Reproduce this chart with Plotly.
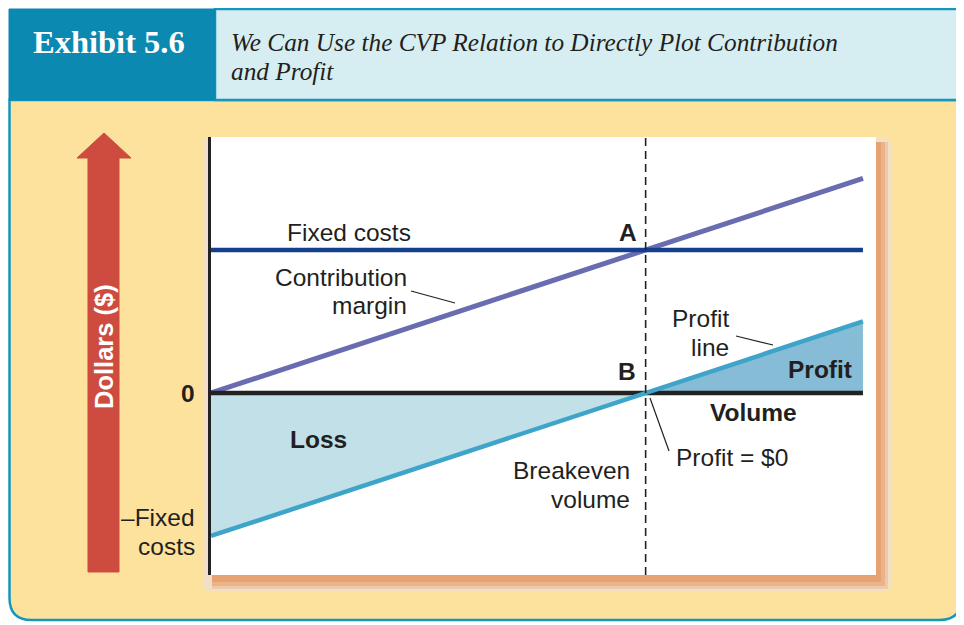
import plotly.graph_objects as go

# ---- data (CVP relation) ----
volume = [0, 1000, 1500]
contribution = [0, 100, 150]
fixed_costs = [100, 100, 100]
profit = [-100, 0, 50]
loss_volume = [0, 1000]
loss_values = [-100, 0]
gain_volume = [1000, 1500]
gain_values = [0, 50]
zero_line = [0, 0, 0]
breakeven_volume = 1000

# page has an 8px body margin; map screen pixels to paper fractions
OFF = 8
W, H = 964 - OFF, 625 - OFF
def fx(px):
    return (px - OFF) / W
def fy(py):
    return 1 - (py - OFF) / H

SANS = "Liberation Sans, Arial, sans-serif"
SERIF = "Liberation Serif, Times New Roman, serif"
TXT = "#231f20"

fig = go.Figure()

# fills
fig.add_trace(go.Scatter(x=loss_volume, y=loss_values, mode="lines", fill="tozeroy",
                         fillcolor="#c1e0e7", line=dict(width=0), hoverinfo="skip"))
fig.add_trace(go.Scatter(x=gain_volume, y=gain_values, mode="lines", fill="tozeroy",
                         fillcolor="#86bcd6", line=dict(width=0), hoverinfo="skip"))
# lines
fig.add_trace(go.Scatter(x=volume, y=contribution, mode="lines",
                         line=dict(color="#6a6cb1", width=5)))
fig.add_trace(go.Scatter(x=volume, y=fixed_costs, mode="lines",
                         line=dict(color="#143f8d", width=4.5)))
fig.add_trace(go.Scatter(x=volume, y=zero_line, mode="lines",
                         line=dict(color="#222222", width=4.5)))
fig.add_trace(go.Scatter(x=volume, y=profit, mode="lines",
                         line=dict(color="#3ea4c9", width=4.5)))

shapes = []
def rect(x0, y0, x1, y1, fill, line_color=None, lw=0, layer="below"):
    shapes.append(dict(type="rect", xref="paper", yref="paper",
                       x0=fx(x0), x1=fx(x1), y0=fy(y1), y1=fy(y0),
                       fillcolor=fill, line=dict(color=line_color or fill, width=lw),
                       layer=layer))

def path(points_cmds, fill, line_color, lw, layer="below"):
    shapes.append(dict(type="path", xref="paper", yref="paper", path=points_cmds,
                       fillcolor=fill, line=dict(color=line_color, width=lw), layer=layer))

def P(x, y):
    return f"{fx(x):.5f},{fy(y):.5f}"

TEAL = "#1597bd"
# yellow body with rounded bottom corners
r = 22
body = (f"M{P(9.5,100)} L{P(961.5,100)} L{P(961.5,620-r)} Q{P(961.5,620)} {P(961.5-r,620)} "
        f"L{P(9.5+r,620)} Q{P(9.5,620)} {P(9.5,620-r)} Z")
path(body, "#fde29d", TEAL, 2.5)
# header boxes
rect(215, 9, 961.5, 100, "#d6eef2", TEAL, 2.5)
rect(9, 9, 215, 100, "#0b89b0", "#0b89b0", 1)

# arrow
arrow = (f"M{P(88,572)} L{P(88,158)} L{P(77,158)} L{P(104,133)} L{P(131,158)} "
         f"L{P(119,158)} L{P(119,572)} Z")
path(arrow, "#cd4b3f", "#cd4b3f", 1)

# panel shadow
rr = 9
shadow = (f"M{P(203,137+rr)} Q{P(203,137)} {P(203+rr,137)} L{P(891-rr,137)} Q{P(891,137)} {P(891,137+rr)} "
          f"L{P(891,591-rr)} Q{P(891,591)} {P(891-rr,591)} L{P(203+rr,591)} Q{P(203,591)} {P(203,591-rr)} Z")
path(shadow, "#f2dfc7", "#f2dfc7", 0)
rect(212, 142, 888, 589, "#efcaa8")
rect(212, 142, 885, 586, "#eab38a")
rect(212, 142, 881, 582, "#e6a271")
rect(211, 137, 876, 575, "#ffffff")

# breakeven dashed line
shapes.append(dict(type="line", xref="x", yref="y domain", x0=breakeven_volume, x1=breakeven_volume,
                   y0=0, y1=1, line=dict(color="#222222", width=1.6, dash="8px,5px"), layer="above"))
# pointer lines
def seg(x0, y0, x1, y1):
    shapes.append(dict(type="line", xref="paper", yref="paper", x0=fx(x0), y0=fy(y0),
                       x1=fx(x1), y1=fy(y1), line=dict(color="#222222", width=1.2), layer="above"))
seg(411, 291, 455, 303)
seg(736, 336, 773, 345)
seg(650, 398, 669, 451)

annotations = []
def ann(text, x, y, size=24.5, bold=False, xanchor="center", color=TXT, family=SANS, **kw):
    if bold:
        text = f"<b>{text}</b>"
    annotations.append(dict(text=text, x=fx(x), y=fy(y), xref="paper", yref="paper",
                            xanchor=xanchor, yanchor="middle", showarrow=False,
                            font=dict(size=size, color=color, family=family), **kw))

ann("Exhibit 5.6", 109, 42, size=32.5, bold=True, color="#ffffff", family=SERIF)
ann("<i>We Can Use the CVP Relation to Directly Plot Contribution</i>", 229, 42, size=25.3,
    xanchor="left", family=SERIF)
ann("<i>and Profit</i>", 229, 71, size=25.3, xanchor="left", family=SERIF)

ann("Dollars ($)", 104, 347, size=25.5, bold=True, color="#ffffff", textangle=-90)

ann("Fixed costs", 349, 232)
ann("A", 628, 232, bold=True)
ann("Contribution", 409, 277, xanchor="right")
ann("margin", 409, 305, xanchor="right")
ann("Profit", 731, 318, xanchor="right")
ann("line", 731, 347, xanchor="right")
ann("B", 627, 371, bold=True)
ann("Profit", 820, 369, bold=True)
ann("0", 197, 393, bold=True, xanchor="right")
ann("Volume", 753, 412, bold=True)
ann("Loss", 318, 439, bold=True)
ann("Profit = $0", 674, 457, xanchor="left")
ann("Breakeven", 632, 470, xanchor="right")
ann("volume", 632, 499, xanchor="right")
ann("\u2013Fixed", 197, 517, xanchor="right")
ann("costs", 197, 546, xanchor="right")

fig.update_layout(
    width=W, height=H, margin=dict(l=0, r=0, t=0, b=0),
    paper_bgcolor="#ffffff", plot_bgcolor="rgba(0,0,0,0)",
    showlegend=False, shapes=shapes, annotations=annotations,
    xaxis=dict(domain=[fx(211), fx(876)], range=[0, 1530], showgrid=False, zeroline=False,
               showticklabels=False, ticks="", showline=False, fixedrange=True),
    yaxis=dict(domain=[fy(575), fy(137)], range=[-127.3, 179], showgrid=False, zeroline=False,
               showticklabels=False, ticks="", showline=True, linecolor="#222222", linewidth=2.5,
               fixedrange=True),
)

fig.write_html("out.html")
